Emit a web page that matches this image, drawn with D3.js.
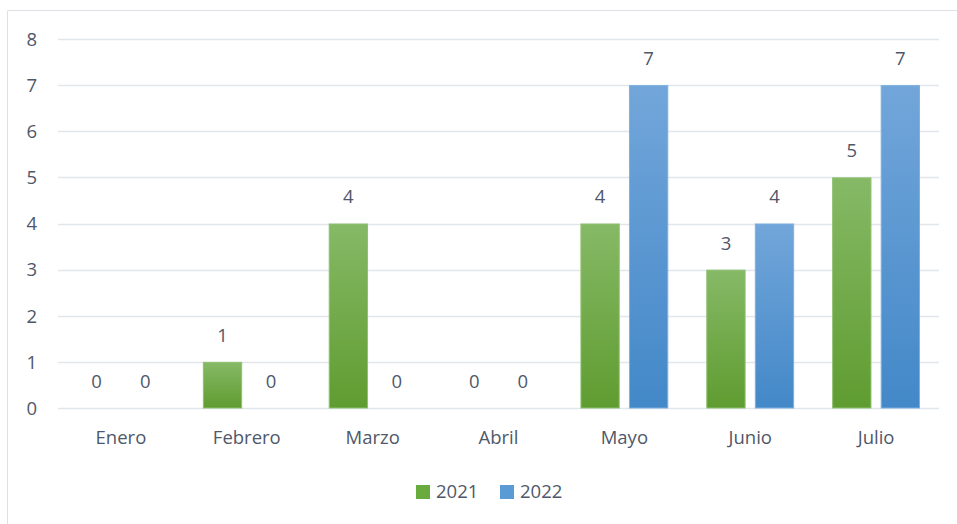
<!DOCTYPE html>
<html>
<head>
<meta charset="utf-8">
<script src="https://cdn.jsdelivr.net/npm/d3@7"></script>
<style>
  body { margin: 0; background: #fff; }
  text { font-family: "Open Sans", "Liberation Sans", sans-serif; fill: #4f586a; }
</style>
</head>
<body>
<div id="chart"></div>
<script>
var months = ["Enero", "Febrero", "Marzo", "Abril", "Mayo", "Junio", "Julio"];
var series = ["2021", "2022"];
var values2021 = [0, 1, 4, 0, 4, 3, 5];
var values2022 = [0, 0, 0, 0, 7, 4, 7];
var yTicks = [0, 1, 2, 3, 4, 5, 6, 7, 8];

var width = 957, height = 524;
var plotLeft = 58, plotRight = 939, plotTop = 39, plotBottom = 408;
var fontSize = "18.5px";

var svg = d3.select("#chart").append("svg")
    .attr("width", width)
    .attr("height", height);

// gradients like the office-style bars
var defs = svg.append("defs");
var grads = [
    {id: "g2021", top: "#86b966", bottom: "#5f9c30"},
    {id: "g2022", top: "#72a6da", bottom: "#4388c8"}
];
grads.forEach(function (g) {
    var lg = defs.append("linearGradient")
        .attr("id", g.id)
        .attr("x1", 0).attr("y1", 0).attr("x2", 0).attr("y2", 1);
    lg.append("stop").attr("offset", "0%").attr("stop-color", g.top);
    lg.append("stop").attr("offset", "100%").attr("stop-color", g.bottom);
});
var colors = {"2021": "url(#g2021)", "2022": "url(#g2022)"};
var legendColors = {"2021": "#6aab3d", "2022": "#5b9bd5"};
var edgeColors = {"2021": "#8fc070", "2022": "#7fb0e0"};

// outer frame
svg.append("path")
    .attr("d", "M7.5," + height + " V10.5 H" + width)
    .attr("fill", "none")
    .attr("stroke", "#dde1e6")
    .attr("stroke-width", 1);

var x = d3.scaleBand().domain(months).range([plotLeft, plotRight]);
var x1 = d3.scaleBand().domain(series).range([19, x.bandwidth() - 19]).paddingInner(0.19);
var y = d3.scaleLinear().domain([0, 8]).range([plotBottom, plotTop]);

// gridlines
svg.append("g")
    .selectAll("line")
    .data(yTicks)
    .enter().append("line")
    .attr("x1", plotLeft)
    .attr("x2", plotRight)
    .attr("y1", function (d) { return Math.round(y(d)) + 0.5; })
    .attr("y2", function (d) { return Math.round(y(d)) + 0.5; })
    .attr("stroke", "#e1e5ec")
    .attr("stroke-width", 1.3);

// y axis labels
svg.append("g")
    .attr("transform", "translate(37,0)")
    .call(d3.axisLeft(y).tickValues(yTicks).tickSize(0).tickPadding(0))
    .call(function (g) { g.select(".domain").remove(); })
    .selectAll("text")
    .style("font-size", fontSize)
    .attr("fill", "#4f586a")
    .attr("dy", "0.34em");

// x axis labels
svg.append("g")
    .attr("transform", "translate(0," + plotBottom + ")")
    .call(d3.axisBottom(x).tickSize(0).tickPadding(23))
    .call(function (g) { g.select(".domain").remove(); })
    .selectAll("text")
    .style("font-size", fontSize)
    .attr("fill", "#4f586a");

var rows = months.map(function (m, i) {
    return {month: m, vals: [
        {key: "2021", value: values2021[i]},
        {key: "2022", value: values2022[i]}
    ]};
});

var group = svg.selectAll(".month")
    .data(rows)
    .enter().append("g")
    .attr("class", "month")
    .attr("transform", function (d) { return "translate(" + x(d.month) + ",0)"; });

group.selectAll("rect")
    .data(function (d) { return d.vals.filter(function (v) { return v.value > 0; }); })
    .enter().append("rect")
    .attr("x", function (d) { return x1(d.key) + 0.5; })
    .attr("y", function (d) { return y(d.value) + 0.5; })
    .attr("width", x1.bandwidth() - 1)
    .attr("height", function (d) { return y(0) - y(d.value) - 0.5; })
    .attr("fill", function (d) { return colors[d.key]; })
    .attr("stroke", function (d) { return edgeColors[d.key]; })
    .attr("stroke-width", 1);

group.selectAll(".val")
    .data(function (d) { return d.vals; })
    .enter().append("text")
    .attr("class", "val")
    .attr("x", function (d) { return x1(d.key) + x1.bandwidth() / 2; })
    .attr("y", function (d) { return y(d.value) - 26.5; })
    .attr("dy", "0.35em")
    .attr("text-anchor", "middle")
    .style("font-size", fontSize)
    .text(function (d) { return d.value; });

// legend
var legend = svg.append("g").attr("transform", "translate(416,485)");
var items = legend.selectAll("g")
    .data(series)
    .enter().append("g")
    .attr("transform", function (d, i) { return "translate(" + (i * 84) + ",0)"; });
items.append("rect")
    .attr("width", 14).attr("height", 14)
    .attr("fill", function (d) { return legendColors[d]; });
items.append("text")
    .attr("x", 20)
    .attr("y", 7)
    .attr("dy", "0.35em")
    .style("font-size", fontSize)
    .text(function (d) { return d; });
</script>
</body>
</html>
